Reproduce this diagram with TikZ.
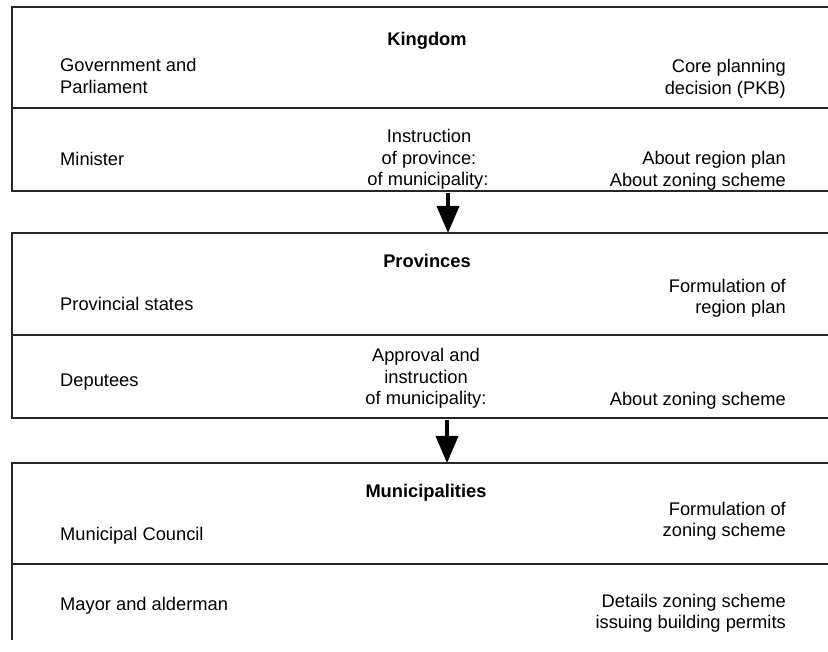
\documentclass[tikz,border=0pt]{standalone}
\usepackage{fontspec}
\setmainfont{Liberation Sans}
\usetikzlibrary{arrows.meta}
\tikzset{
  rule/.style={line width=1.3pt, black!85},
  lefttext/.style={anchor=base west, inner sep=0pt, font=\fontsize{18.3}{21.5}\selectfont},
  righttext/.style={anchor=base east, inner sep=0pt, font=\fontsize{18.3}{21.5}\selectfont},
  midtext/.style={anchor=base, inner sep=0pt, font=\fontsize{18.3}{21.5}\selectfont},
  headtext/.style={anchor=base, inner sep=0pt, font=\fontsize{18.3}{21.5}\selectfont\bfseries},
  flowarrow/.style={line width=4pt, -{Triangle[width=22pt,length=27pt]}}
}
\begin{document}
\begin{tikzpicture}[x=1pt,y=-1pt]
\useasboundingbox[fill=white] (0,0) rectangle (828,652);
% Box 1: Kingdom
\draw[rule] (828,7) -- (12,7) -- (12,191) -- (828,191);
\draw[rule] (12,108) -- (828,108);
% Box 2: Provinces
\draw[rule] (828,233) -- (12,233) -- (12,418) -- (828,418);
\draw[rule] (12,335) -- (828,335);
% Box 3: Municipalities
\draw[rule] (828,463) -- (12,463) -- (12,640);
\draw[rule] (12,564) -- (828,564);

% Kingdom texts
\node[headtext] (kingdom) at (427,46) {Kingdom};
\node[lefttext] (gov1) at (60,72) {Government and};
\node[lefttext] (gov2) at (60,93.5) {Parliament};
\node[righttext] (pkb1) at (786,73) {Core planning};
\node[righttext] (pkb2) at (786,94.5) {decision (PKB)};
\node[lefttext] (minister) at (60,166) {Minister};
\node[midtext] (instr1) at (429,143) {Instruction};
\node[midtext] (instr2) at (429,164.5) {of province:};
\node[midtext] (instr3) at (428,186) {of municipality:};
\node[righttext] (about1) at (786,165) {About region plan};
\node[righttext] (about2) at (786,186.5) {About zoning scheme};

% Provinces texts
\node[headtext] (provinces) at (427,267.5) {Provinces};
\node[lefttext] (provst) at (60,311) {Provincial states};
\node[righttext] (form1) at (786,292.5) {Formulation of};
\node[righttext] (form2) at (786,314) {region plan};
\node[lefttext] (deputees) at (60,387) {Deputees};
\node[midtext] (appr1) at (426,362) {Approval and};
\node[midtext] (appr2) at (426,383.5) {instruction};
\node[midtext] (appr3) at (426,405) {of municipality:};
\node[righttext] (about3) at (786,405.5) {About zoning scheme};

% Municipalities texts
\node[headtext] (munis) at (426,497.5) {Municipalities};
\node[lefttext] (council) at (60,540) {Municipal Council};
\node[righttext] (form3) at (786,515) {Formulation of};
\node[righttext] (form4) at (786,536.5) {zoning scheme};
\node[lefttext] (mayor) at (60,610) {Mayor and alderman};
\node[righttext] (det1) at (786,607) {Details zoning scheme};
\node[righttext] (det2) at (786,628.5) {issuing building permits};

% Arrows
\coordinate (kbottom) at (448,193);
\coordinate (ptop) at (448,233);
\coordinate (pbottom) at (447,420);
\coordinate (mtop) at (447,463);
\draw[flowarrow] (kbottom) -- (ptop);
\draw[flowarrow] (pbottom) -- (mtop);
\end{tikzpicture}
\end{document}
